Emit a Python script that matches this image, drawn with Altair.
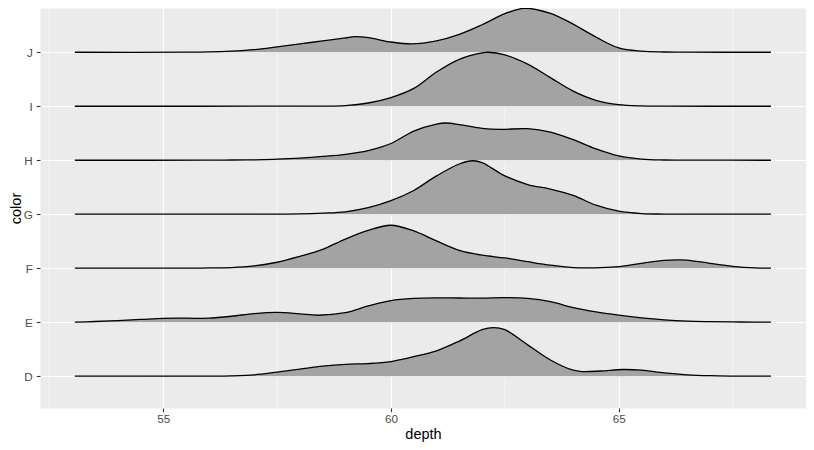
import altair as alt
import pandas as pd

# categories, bottom to top
colors = ["D", "E", "F", "G", "H", "I", "J"]

# ridge outlines: depth position and ridge height (in rows)
d_depth = [53.06, 56.0, 56.5, 57.0, 57.5, 58.0, 58.5, 59.0, 59.5, 60.0, 60.5, 61.0, 61.5,
           62.0, 62.25, 62.5, 63.0, 63.5, 64.0, 64.2, 64.6, 65.1, 65.5, 66.0, 66.5, 67.0, 67.5, 68.34]
d_height = [0, 0.001, 0.006, 0.025, 0.075, 0.13, 0.185, 0.22, 0.233, 0.27, 0.36, 0.47, 0.65,
            0.86, 0.9, 0.86, 0.58, 0.30, 0.11, 0.085, 0.095, 0.123, 0.11, 0.06, 0.025, 0.008, 0.002, 0]

e_depth = [53.06, 53.5, 54.0, 54.5, 55.0, 55.3, 55.7, 56.0, 56.5, 57.0, 57.5, 58.0, 58.4, 59.0,
           59.5, 60.0, 60.5, 61.0, 61.5, 62.0, 62.5, 63.0, 63.5, 64.0, 64.5, 65.0, 65.5, 66.0,
           66.5, 67.0, 67.5, 68.0, 68.34]
e_height = [0, 0.012, 0.03, 0.05, 0.07, 0.075, 0.072, 0.074, 0.11, 0.16, 0.182, 0.155, 0.128, 0.175,
            0.30, 0.40, 0.44, 0.45, 0.448, 0.445, 0.455, 0.44, 0.38, 0.27, 0.19, 0.13, 0.08, 0.043,
            0.02, 0.01, 0.004, 0.001, 0]

f_depth = [53.06, 55.5, 56.0, 56.5, 57.0, 57.5, 58.0, 58.5, 59.0, 59.5, 60.0, 60.5, 61.0, 61.5,
           62.0, 62.5, 63.0, 63.5, 64.0, 64.3, 64.6, 65.0, 65.5, 66.0, 66.3, 66.5, 67.0, 67.5,
           68.0, 68.34]
f_height = [0, 0.001, 0.004, 0.012, 0.043, 0.11, 0.22, 0.35, 0.54, 0.70, 0.795, 0.69, 0.505, 0.33,
            0.24, 0.19, 0.12, 0.055, 0.012, 0.006, 0.01, 0.03, 0.09, 0.145, 0.155, 0.15, 0.09, 0.035,
            0.006, 0.001]

g_depth = [53.06, 57.0, 57.5, 58.0, 58.5, 59.0, 59.5, 60.0, 60.5, 61.0, 61.5, 61.8, 62.0, 62.5,
           63.0, 63.5, 64.0, 64.5, 65.0, 65.5, 66.0, 66.5, 68.34]
g_height = [0, 0.001, 0.002, 0.006, 0.02, 0.045, 0.12, 0.25, 0.44, 0.71, 0.93, 0.99, 0.955, 0.71,
            0.55, 0.465, 0.35, 0.167, 0.056, 0.012, 0.003, 0.001, 0]

h_depth = [53.06, 56.0, 56.5, 57.0, 57.5, 58.0, 58.5, 59.0, 59.5, 60.0, 60.5, 61.0, 61.2, 61.5,
           62.0, 62.4, 63.0, 63.5, 64.0, 64.5, 65.0, 65.5, 66.0, 66.5, 68.34]
h_height = [0, 0.001, 0.004, 0.008, 0.02, 0.04, 0.07, 0.11, 0.18, 0.31, 0.54, 0.67, 0.69, 0.66,
            0.59, 0.57, 0.585, 0.52, 0.38, 0.21, 0.08, 0.02, 0.004, 0.001, 0]

i_depth = [53.06, 58.0, 58.5, 59.0, 59.5, 60.0, 60.5, 61.0, 61.5, 62.0, 62.13, 62.5, 63.0, 63.5,
           64.0, 64.5, 65.0, 65.5, 66.0, 68.34]
i_height = [0, 0.001, 0.003, 0.012, 0.06, 0.16, 0.33, 0.635, 0.87, 0.99, 1.0, 0.95, 0.78, 0.53,
            0.28, 0.11, 0.03, 0.006, 0.001, 0]

j_depth = [53.06, 55.5, 56.0, 56.5, 57.0, 57.5, 58.0, 58.5, 59.0, 59.2, 59.5, 60.0, 60.45, 61.0,
           61.5, 62.0, 62.5, 62.93, 63.5, 64.0, 64.5, 65.0, 65.5, 66.0, 66.5, 68.34]
j_height = [0, 0.001, 0.006, 0.022, 0.05, 0.10, 0.155, 0.21, 0.265, 0.29, 0.27, 0.19, 0.155, 0.21,
            0.33, 0.51, 0.715, 0.815, 0.72, 0.52, 0.28, 0.08, 0.02, 0.005, 0.001, 0]

major_breaks = [55, 60, 65]
minor_breaks = [52.5, 57.5, 62.5, 67.5]

series = {
    "D": (d_depth, d_height),
    "E": (e_depth, e_height),
    "F": (f_depth, f_height),
    "G": (g_depth, g_height),
    "H": (h_depth, h_height),
    "I": (i_depth, i_height),
    "J": (j_depth, j_height),
}

rows = []
for pos, c in enumerate(colors, start=1):
    xs, hs = series[c]
    for x, h in zip(xs, hs):
        rows.append({"color": c, "depth": x, "height": h, "base": pos})
df = pd.DataFrame(rows)

label_expr = "[" + ",".join(f"'{c}'" for c in [""] + colors) + "][datum.value]"

x_scale = alt.Scale(domain=[52.296, 69.11], nice=False, zero=False)
y_scale = alt.Scale(domain=[0.41, 7.82], nice=False, zero=False)
x_axis = alt.Axis(values=major_breaks, format="d", title="depth", labelPadding=2, titlePadding=2)
y_axis = alt.Axis(values=list(range(1, len(colors) + 1)), labelExpr=label_expr, title="color",
                  labelPadding=4, titlePadding=0)

minor = (
    alt.Chart(pd.DataFrame({"depth": minor_breaks}))
    .mark_rule(color="white", strokeWidth=0.55)
    .encode(x=alt.X("depth:Q", scale=x_scale, axis=x_axis))
)

ridges = alt.Chart(df).transform_calculate(top="datum.base + datum.height")

areas = ridges.mark_area(interpolate="catmull-rom", color="#A3A3A3").encode(
    x=alt.X("depth:Q", scale=x_scale, axis=x_axis),
    y=alt.Y("top:Q", scale=y_scale, axis=y_axis),
    y2="base:Q",
    detail="color:N",
)

lines = ridges.mark_line(interpolate="catmull-rom", color="black", strokeWidth=1.3).encode(
    x=alt.X("depth:Q", scale=x_scale, axis=x_axis),
    y=alt.Y("top:Q", scale=y_scale, axis=y_axis),
    detail="color:N",
)

chart = (
    alt.layer(minor, areas, lines)
    .properties(
        width=766,
        height=400,
        autosize=alt.AutoSizeParams(type="none"),
        padding={"left": 32, "top": 0, "right": 0, "bottom": 34},
    )
    .configure_view(fill="#EBEBEB", stroke="transparent")
    .configure_axis(
        domain=False,
        grid=True,
        gridColor="white",
        gridWidth=1.1,
        tickColor="#333333",
        tickSize=3.7,
        tickWidth=1.1,
        labelColor="#4D4D4D",
        labelFont="Liberation Sans",
        labelFontSize=11.7,
        titleFont="Liberation Sans",
        titleFontSize=14.5,
        titleFontWeight="normal",
        titleColor="black",
    )
)

chart.save("out.html", embed_options={"renderer": "svg", "actions": False})
